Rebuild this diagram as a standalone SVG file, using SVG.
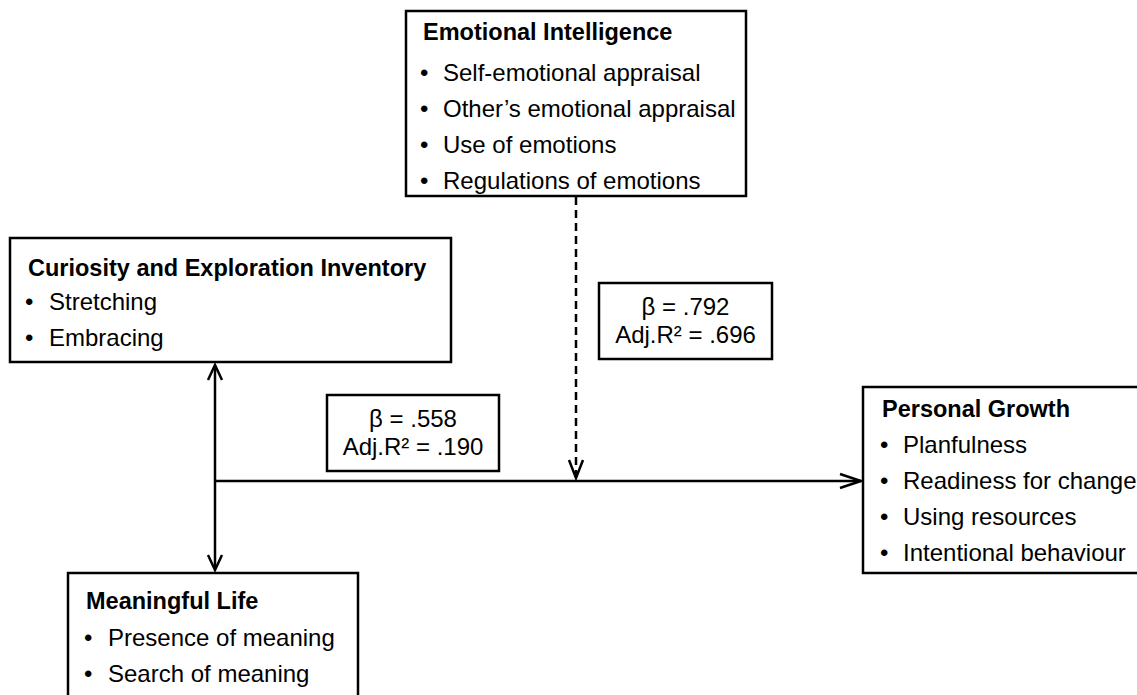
<svg xmlns="http://www.w3.org/2000/svg" width="1137" height="695" viewBox="0 0 1137 695">
<style>
.box{fill:#fff;stroke:#000;stroke-width:2.5}
.t{font-family:"Liberation Sans",Arial,sans-serif;font-size:24px;fill:#000}
.h{font-family:"Liberation Sans",Arial,sans-serif;font-size:23.5px;font-weight:bold;fill:#000}
.c{text-anchor:middle}
.ln{stroke:#000;stroke-width:2.5;fill:none}
.ah{stroke:#000;stroke-width:2.5;fill:none;stroke-linejoin:miter}
</style>
<rect width="1137" height="695" fill="#fff"/>
<g id="connectors">
<line class="ln" x1="215" y1="366" x2="215" y2="568"/>
<polyline class="ah" points="208,380 215,365 222,380"/>
<polyline class="ah" points="208,555 215,570 222,555"/>
<line class="ln" x1="215" y1="481" x2="861" y2="481"/>
<polyline class="ah" points="840,474 861,481 840,488"/>
<line class="ln" x1="576" y1="197" x2="576" y2="476" stroke-dasharray="8 5"/>
<polyline class="ah" points="569,460 576,478 583,460"/>
</g>
<g id="emotional-intelligence">
<rect class="box" x="406" y="11" width="340" height="185"/>
<text class="h" x="423" y="40">Emotional Intelligence</text>
<text class="t" x="420" y="81">•</text><text class="t" x="443" y="81">Self-emotional appraisal</text>
<text class="t" x="420" y="117">•</text><text class="t" x="443" y="117">Other’s emotional appraisal</text>
<text class="t" x="420" y="153">•</text><text class="t" x="443" y="153">Use of emotions</text>
<text class="t" x="420" y="189">•</text><text class="t" x="443" y="189">Regulations of emotions</text>
</g>
<g id="curiosity">
<rect class="box" x="10" y="238" width="441" height="124"/>
<text class="h" x="28" y="276">Curiosity and Exploration Inventory</text>
<text class="t" x="25" y="310">•</text><text class="t" x="49" y="310">Stretching</text>
<text class="t" x="25" y="346">•</text><text class="t" x="49" y="346">Embracing</text>
</g>
<g id="beta1">
<rect class="box" x="327" y="395" width="172" height="76"/>
<text class="t c" x="413" y="427">β = .558</text>
<text class="t c" x="413" y="455">Adj.R² = .190</text>
</g>
<g id="beta2">
<rect class="box" x="599" y="283" width="173" height="76"/>
<text class="t c" x="685.5" y="315">β = .792</text>
<text class="t c" x="685.5" y="343">Adj.R² = .696</text>
</g>
<g id="personal-growth">
<rect class="box" x="863" y="387" width="290" height="186"/>
<text class="h" x="882" y="417">Personal Growth</text>
<text class="t" x="880" y="453">•</text><text class="t" x="903" y="453">Planfulness</text>
<text class="t" x="880" y="489">•</text><text class="t" x="903" y="489">Readiness for change</text>
<text class="t" x="880" y="525">•</text><text class="t" x="903" y="525">Using resources</text>
<text class="t" x="880" y="561">•</text><text class="t" x="903" y="561">Intentional behaviour</text>
</g>
<g id="meaningful-life">
<rect class="box" x="68" y="573" width="290" height="140"/>
<text class="h" x="86" y="609">Meaningful Life</text>
<text class="t" x="84" y="646">•</text><text class="t" x="108" y="646">Presence of meaning</text>
<text class="t" x="84" y="682">•</text><text class="t" x="108" y="682">Search of meaning</text>
</g>
</svg>
